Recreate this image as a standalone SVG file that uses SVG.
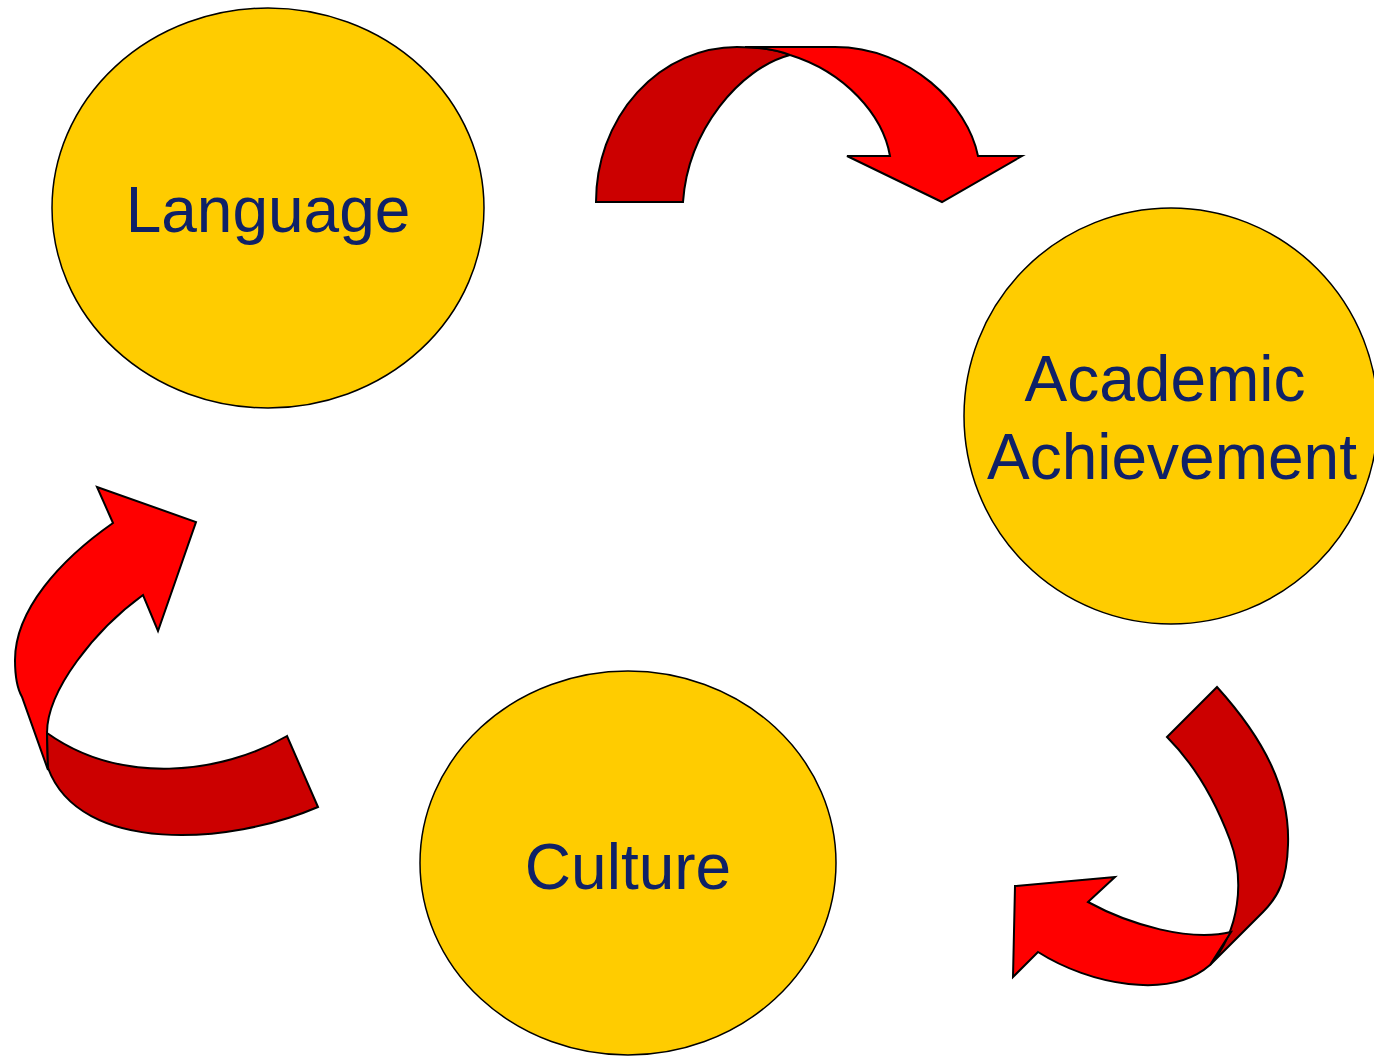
<svg xmlns="http://www.w3.org/2000/svg" width="1374" height="1057" viewBox="0 0 1374 1057">
<style>
.node{fill:#FFCC00;stroke:#000;stroke-width:1.5}
.lbl{font-family:"Liberation Sans",Arial,sans-serif;font-size:64px;fill:#0F2167;text-anchor:middle}
.dk{fill:#CC0000;stroke:#000;stroke-width:2;stroke-linejoin:miter}
.br{fill:#FF0000;stroke:#000;stroke-width:2;stroke-linejoin:miter}
</style>
<rect width="1374" height="1057" fill="#fff"/>
<g id="connectors">
  <g id="arrow-top">
    <path class="dk" d="M596,202 A141,155 0 0 1 737,47 Q770,47 790,55 C740,68 688,130 683,202 Z"/>
    <path class="br" d="M745,47 L835,47 C910,47 968,105 978,156 L1022,156 L942,202 L847,156 L890,156 C883,115 845,72 790,55 Q772,48 745,47 Z"/>
  </g>
  <g id="arrow-right">
    <path class="dk" d="M1167,737 L1217,687 C1265,740 1290,790 1288,845 C1287,880 1278,897 1263,912 L1210,965 C1240,930 1245,880 1230,840 C1215,800 1195,765 1167,737 Z"/>
    <path class="br" d="M1088,902 L1115,877 L1015,886 L1013,977 L1038,952 C1090,985 1170,1000 1210,965 L1231,932 C1190,942 1130,925 1088,902 Z"/>
  </g>
  <g id="arrow-left">
    <path class="br" d="M113,523 L97,487 L196,522 L158,631 L143,595 C95,630 47,690 47,733 L48,770 L22,697 C18,690 15,680 15,660 C15,610 60,560 113,523 Z"/>
    <path class="dk" d="M47,733 C120,785 220,775 287,736 L318,807 C230,845 80,855 48,768 Z"/>
  </g>
</g>
<g id="node-language">
  <ellipse class="node" cx="268" cy="208" rx="216" ry="200"/>
  <text class="lbl" x="268" y="232">Language</text>
</g>
<g id="node-academic">
  <ellipse class="node" cx="1171" cy="416" rx="207" ry="208"/>
  <text class="lbl" x="1165" y="401">Academic</text>
  <text class="lbl" x="1172" y="479">Achievement</text>
</g>
<g id="node-culture">
  <ellipse class="node" cx="628" cy="863" rx="208" ry="192"/>
  <text class="lbl" x="628" y="889">Culture</text>
</g>
</svg>
